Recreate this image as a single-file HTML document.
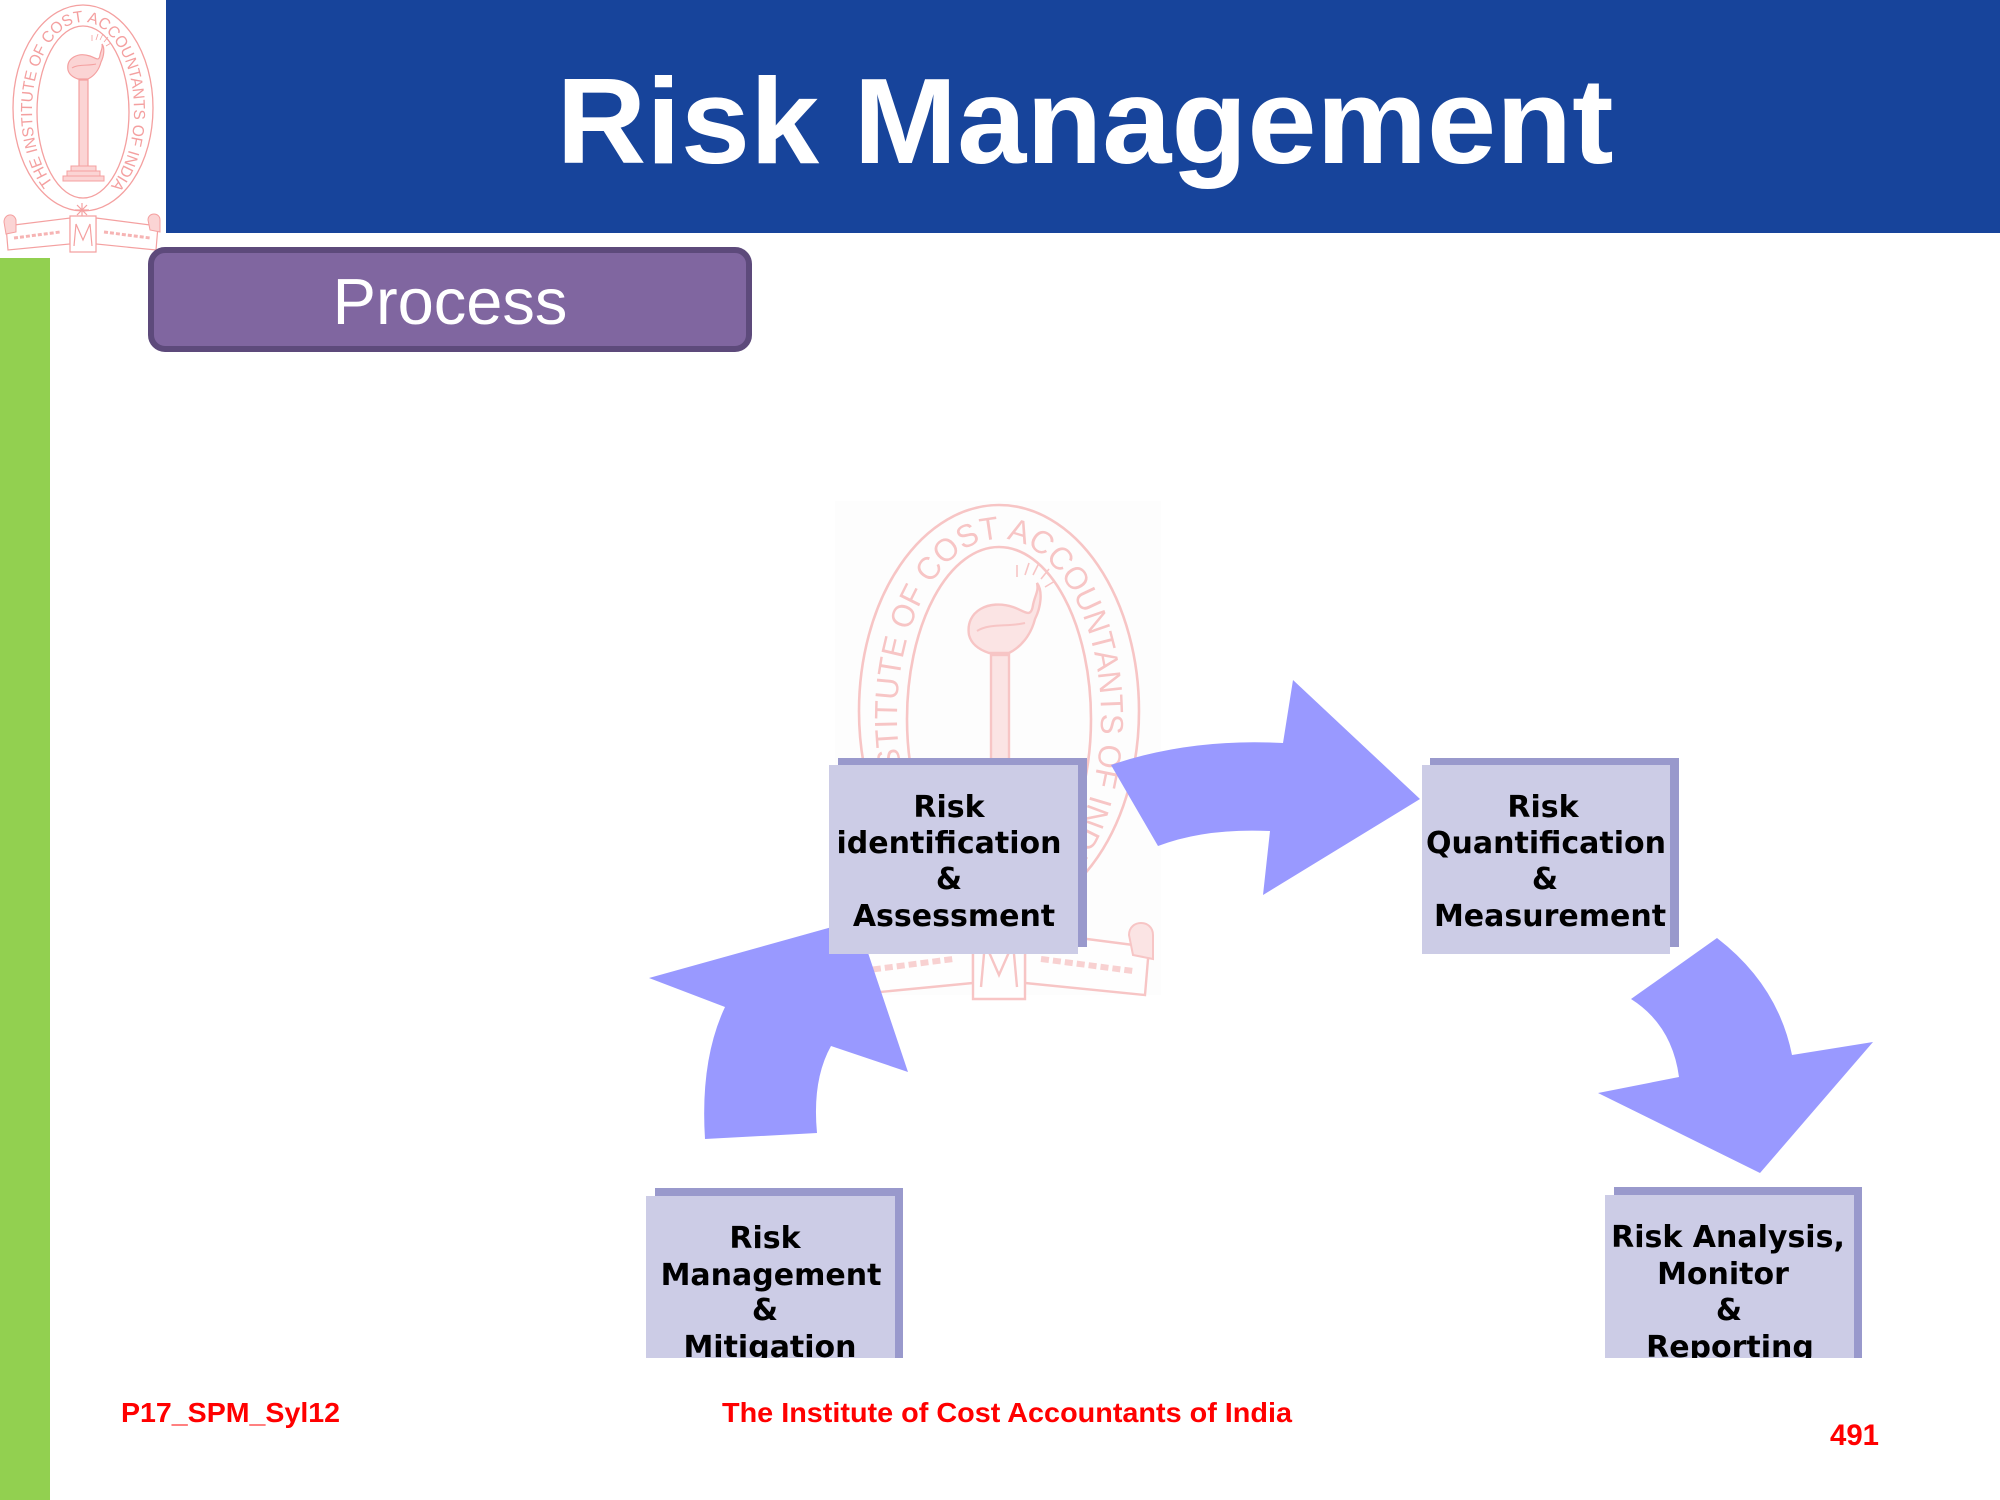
<!DOCTYPE html>
<html>
<head>
<meta charset="utf-8">
<style>
  html,body{margin:0;padding:0;background:#fff;}
  body{width:2000px;height:1500px;overflow:hidden;}
  svg{display:block;}
</style>
</head>
<body>
<svg width="2000" height="1500" viewBox="0 0 2000 1500" xmlns="http://www.w3.org/2000/svg">
  <defs>
    <g id="logo">
      <ellipse cx="83" cy="108" rx="70" ry="103" fill="none" stroke="#f4a0a0" stroke-width="1.3"/>
      <ellipse cx="83" cy="112" rx="46" ry="86" fill="none" stroke="#f4a0a0" stroke-width="1.3"/>
      <path id="arcp" d="M 53 183 A 51 89 0 1 1 113 183" fill="none"/>
      <text font-family="Liberation Sans, sans-serif" font-size="16" fill="#f4a0a0"><textPath href="#arcp" textLength="380" lengthAdjust="spacingAndGlyphs">THE INSTITUTE OF COST ACCOUNTANTS OF INDIA</textPath></text>
      <!-- lamp -->
      <path d="M68 70 C66 58 78 52 90 56 C96 58 99 62 100 55 C101 50 103 48 102 44 C105 48 104 56 101 62 C99 70 94 76 88 79 L78 79 C72 77 69 74 68 70 Z" fill="#fbd4d4" stroke="#f4a0a0" stroke-width="1.2"/>
      <path d="M72 68 C78 64 88 66 96 64" fill="none" stroke="#f4a0a0" stroke-width="1"/>
      <path d="M96 40 L98 34 M100 40 L103 34 M104 42 L108 37 M106 46 L111 43 M92 41 L92 35" stroke="#f4a0a0" stroke-width="0.8" fill="none"/>
      <!-- pillar -->
      <rect x="79" y="80" width="9" height="88" fill="#fbd4d4" stroke="#f4a0a0" stroke-width="1.2"/>
      <rect x="71" y="166" width="25" height="5" fill="#fbd4d4" stroke="#f4a0a0" stroke-width="1"/>
      <rect x="67" y="171" width="33" height="5" fill="#fbd4d4" stroke="#f4a0a0" stroke-width="1"/>
      <rect x="63" y="176" width="41" height="5" fill="#fbd4d4" stroke="#f4a0a0" stroke-width="1"/>
      <!-- star -->
      <path d="M82 203 L82 218 M75 210 L89 210 M77 205 L87 215 M87 205 L77 215" stroke="#f4a0a0" stroke-width="1.2"/>
      <!-- ribbon -->
      <path d="M6 226 L70 218 L70 244 L8 250 Z" fill="#fff" stroke="#f4a0a0" stroke-width="1.2"/>
      <path d="M4 222 C4 214 14 212 16 220 L16 232 L6 234 Z" fill="#fbd4d4" stroke="#f4a0a0" stroke-width="1"/>
      <path d="M96 218 L158 226 L156 250 L96 244 Z" fill="#fff" stroke="#f4a0a0" stroke-width="1.2"/>
      <path d="M148 220 C148 212 160 212 160 220 L160 232 L150 230 Z" fill="#fbd4d4" stroke="#f4a0a0" stroke-width="1"/>
      <path d="M70 216 L96 216 L96 252 L70 252 Z" fill="#fff" stroke="#f4a0a0" stroke-width="1.2"/>
      <path d="M74 246 L76 224 L83 240 L90 224 L92 246" fill="none" stroke="#f4a0a0" stroke-width="1.2"/>
      <path d="M14 238 L60 232 M104 232 L150 238" stroke="#f6b4b4" stroke-width="3" stroke-dasharray="4 2"/>
    </g>
    <clipPath id="botclip"><rect x="0" y="0" width="2000" height="1358"/></clipPath>
  </defs>

  <!-- top-left logo -->
  <use href="#logo"/>

  <!-- header -->
  <rect x="166" y="0" width="1834" height="233" fill="#17449b"/>
  <text x="1085" y="163" text-anchor="middle" font-family="Liberation Sans, sans-serif" font-weight="bold" font-size="122" fill="#ffffff" textLength="1057" lengthAdjust="spacingAndGlyphs">Risk Management</text>

  <!-- green side bar -->
  <rect x="0" y="258" width="50" height="1242" fill="#92d050"/>

  <!-- Process box -->
  <rect x="151" y="250" width="598" height="99" rx="14" ry="14" fill="#8066a0" stroke="#5d4a7b" stroke-width="6"/>
  <text x="450" y="324" text-anchor="middle" font-family="Liberation Sans, sans-serif" font-size="65" fill="#ffffff">Process</text>

  <!-- watermark -->
  <rect x="835" y="501" width="326" height="494" fill="#fdfdfd"/>
  <g transform="translate(833,495) scale(2)" opacity="0.6">
    <use href="#logo"/>
  </g>

  <!-- arrows -->
  <path d="M 1111 765 Q 1190 738 1283 743 L 1293 680 L 1420 799 L 1263 895 L 1270 831 Q 1205 828 1158 846 Z" fill="#9999ff"/>
  <path d="M 1717 938 Q 1778 985 1792 1055 L 1873 1042 L 1760 1173 L 1598 1093 L 1679 1077 Q 1672 1025 1631 999 Z" fill="#9999ff"/>
  <path d="M 705 1139 Q 700 1060 725 1007 L 649 978 L 857 920 L 908 1072 L 831 1046 Q 812 1080 817 1133 Z" fill="#9999ff"/>

  <!-- boxes -->
  <g font-family="DejaVu Sans, sans-serif" font-weight="bold" font-size="30" fill="#000" text-anchor="middle">
    <!-- box1 -->
    <rect x="838" y="758" width="249" height="189" fill="#9999cc"/>
    <rect x="829" y="765" width="249" height="189" fill="#cccce6"/>
    <text x="949" y="817">Risk</text>
    <text x="949" y="853">identification</text>
    <text x="949" y="889">&amp;</text>
    <text x="954" y="926">Assessment</text>

    <!-- box2 -->
    <rect x="1430" y="758" width="249" height="189" fill="#9999cc"/>
    <rect x="1422" y="765" width="248" height="189" fill="#cccce6"/>
    <text x="1543" y="817">Risk</text>
    <text x="1546" y="853">Quantification</text>
    <text x="1545" y="889">&amp;</text>
    <text x="1550" y="926">Measurement</text>

    <g clip-path="url(#botclip)">
      <!-- box3 -->
      <rect x="655" y="1188" width="248" height="180" fill="#9999cc"/>
      <rect x="646" y="1196" width="249" height="172" fill="#cccce6"/>
      <text x="765" y="1248">Risk</text>
      <text x="771" y="1285">Management</text>
      <text x="765" y="1320">&amp;</text>
      <text x="770" y="1357">Mitigation</text>

      <!-- box4 -->
      <rect x="1614" y="1187" width="248" height="180" fill="#9999cc"/>
      <rect x="1605" y="1195" width="249" height="172" fill="#cccce6"/>
      <text x="1728" y="1247">Risk Analysis,</text>
      <text x="1723" y="1284">Monitor</text>
      <text x="1729" y="1320">&amp;</text>
      <text x="1730" y="1357">Reporting</text>
    </g>
  </g>

  <!-- footer -->
  <g font-family="Liberation Sans, sans-serif" font-weight="bold" font-size="28" fill="#ff0000">
    <text x="121" y="1422" textLength="219" lengthAdjust="spacingAndGlyphs">P17_SPM_Syl12</text>
    <text x="722" y="1422" textLength="570" lengthAdjust="spacingAndGlyphs">The Institute of Cost Accountants of India</text>
    <text x="1830" y="1445" font-size="30" textLength="49" lengthAdjust="spacingAndGlyphs">491</text>
  </g>
</svg>
</body>
</html>
